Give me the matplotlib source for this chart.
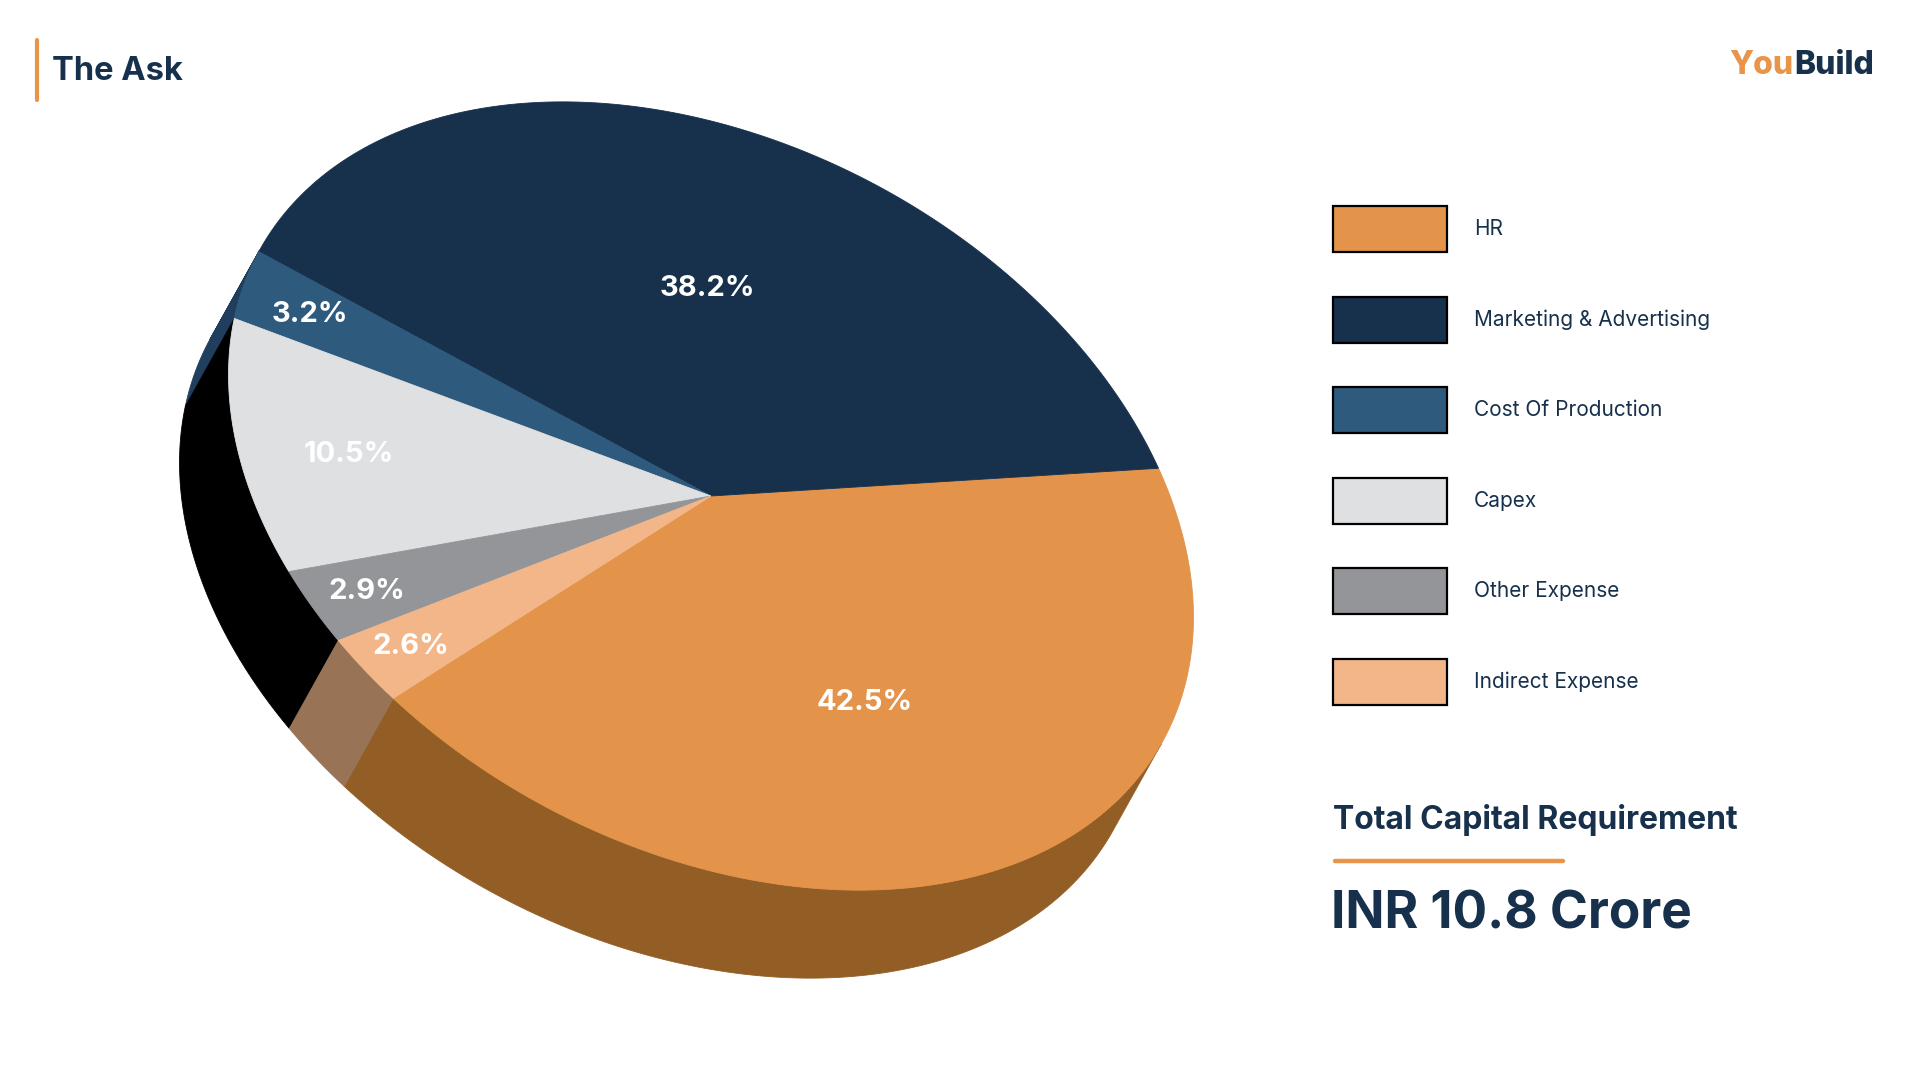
import numpy as np
import matplotlib.pyplot as plt
from matplotlib.patches import Polygon, Rectangle

categories = ["HR", "Marketing & Advertising", "Cost Of Production",
              "Capex", "Other Expense", "Indirect Expense"]
shares = [42.5, 38.2, 3.2, 10.5, 2.9, 2.6]
top_colors = ["#E3934A", "#17304C", "#2E5A7D", "#DFE0E2", "#939598", "#F2B689"]
side_colors = ["#935E26", "#12263D", "#203F5F", "#000000", "#000000", "#987356"]
title = "The Ask"
total_label = "Total Capital Requirement"
total_value = "INR 10.8 Crore"

NAVY = "#17304C"
ORANGE = "#E8944A"
plt.rcParams["font.family"] = ["Inter", "DejaVu Sans"]

fig = plt.figure(figsize=(19.2, 10.8), dpi=100)
ax = fig.add_axes([0, 0, 1, 1])
ax.set_xlim(0, 1920)
ax.set_ylim(1080, 0)
ax.axis("off")

# --- tilted 3D pie, drawn in pixel space (y down) ---
cx, cy = 711, 496
ra, rb = 514, 352
tilt = np.radians(28.25)
depth = np.array([-49.0, 88.0])
start = 111.0
rot = np.array([[np.cos(tilt), -np.sin(tilt)],
                [np.sin(tilt), np.cos(tilt)]])


def rim(t, r=1.0):
    pts = np.stack([r * ra * np.cos(t), r * rb * np.sin(t)])
    return (rot @ pts).T + [cx, cy]


def outward(t):
    n = np.stack([rb * np.cos(t), ra * np.sin(t)])
    return (rot @ n).T


fr = np.array(shares) / sum(shares)
edges = np.radians(start - 360 * np.concatenate([[0], np.cumsum(fr)]))

for i in range(len(shares)):
    t = np.linspace(edges[i], edges[i + 1], 600)
    vis = outward(t) @ depth > 0
    # side wall: only the part facing the viewer
    idx = np.flatnonzero(vis)
    if len(idx):
        runs = np.split(idx, np.flatnonzero(np.diff(idx) > 1) + 1)
        for run in runs:
            if len(run) < 2:
                continue
            top = rim(t[run])
            poly = np.vstack([top, (top + depth)[::-1]])
            ax.add_patch(Polygon(poly, closed=True, fc=side_colors[i],
                                 ec=side_colors[i], lw=0.6, zorder=1))
    face = np.vstack([[cx, cy], rim(t)])
    ax.add_patch(Polygon(face, closed=True, fc=top_colors[i],
                         ec=top_colors[i], lw=0.6, zorder=2))

for i, f in enumerate(fr):
    mid = (edges[i] + edges[i + 1]) / 2
    x, y = rim(np.array([mid]), r=max(0.55, 0.9 - 1.3 * f))[0]
    ax.text(x, y, f"{shares[i]}%", color="white", fontsize=21,
            fontweight="bold", ha="center", va="center", zorder=3)

# --- header ---
ax.plot([37, 37], [40, 100], color=ORANGE, lw=3, solid_capstyle="round")
ax.text(52, 71, title, color=NAVY, fontsize=23.5, fontweight="bold",
        ha="left", va="center")
ax.text(1729, 66, "You", color=ORANGE, fontsize=23, fontweight="heavy",
        ha="left", va="center")
ax.text(1794, 66, "Build", color=NAVY, fontsize=23, fontweight="heavy",
        ha="left", va="center")

# --- legend ---
for i, name in enumerate(categories):
    y0 = 206 + i * 90.6
    ax.add_patch(Rectangle((1333, y0), 114, 46, fc=top_colors[i],
                           ec="black", lw=1.6, zorder=2))
    ax.text(1474, y0 + 23, name, color=NAVY, fontsize=15,
            ha="left", va="center")

# --- total ---
ax.text(1333, 820, total_label, color=NAVY, fontsize=23, fontweight="bold",
        ha="left", va="center")
ax.plot([1335, 1563], [861, 861], color=ORANGE, lw=3.2,
        solid_capstyle="round")
ax.text(1331, 915, total_value, color=NAVY, fontsize=37, fontweight="bold",
        ha="left", va="center")

fig.savefig("out.png", dpi=100, facecolor="white")
